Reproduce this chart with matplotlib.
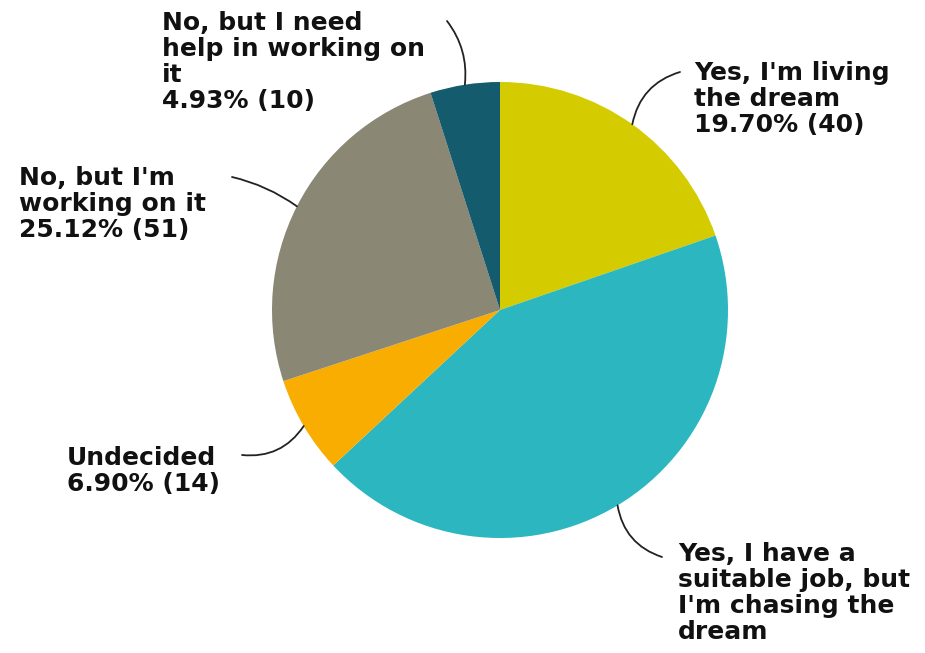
import numpy as np
import matplotlib.pyplot as plt

labels = ["Yes, I'm living\nthe dream",
          "Yes, I have a\nsuitable job, but\nI'm chasing the\ndream",
          "Undecided",
          "No, but I'm\nworking on it",
          "No, but I need\nhelp in working on\nit"]
counts = [40, 88, 14, 51, 10]
colors = ["#d4cc00", "#2bb6c0", "#f9ad00", "#8a8875", "#135b6d"]
# the big slice's percentage runs off the bottom of the original image
show_pct = [True, False, True, True, True]

# label placement (pixels, top-left of text block) and leader curvature
text_pos = [(694, 61), (678, 542), (67, 446), (19, 166), (162, 11)]
line_end = [(680, 72), (662, 557), (242, 455), (232, 177), (447, 21)]
line_rad = [-0.3, 0.3, -0.3, 0.1, 0.2]

total = sum(counts)
cx, cy, r = 500, 310, 228

fig = plt.figure(figsize=(9.25, 6.53), dpi=100)
ax = fig.add_axes([0, 0, 1, 1])

wedges, _ = ax.pie(counts, colors=colors, startangle=-90, counterclock=True,
                   center=(cx, cy), radius=r, wedgeprops=dict(linewidth=0))
ax.set_xlim(0, 925)
ax.set_ylim(653, 0)
ax.set_aspect("equal")
ax.axis("off")

for w, lab, c, sp, tp, le, rad in zip(wedges, labels, counts, show_pct,
                                      text_pos, line_end, line_rad):
    mid = np.deg2rad((w.theta1 + w.theta2) / 2)
    px, py = cx + r * np.cos(mid), cy + r * np.sin(mid)
    ax.annotate("", xy=le, xytext=(px, py),
                arrowprops=dict(arrowstyle="-", color="#222222", lw=1.3,
                                shrinkA=0, shrinkB=0,
                                connectionstyle=f"arc3,rad={rad}"))
    txt = f"{lab}\n{c / total * 100:.2f}% ({c})" if sp else lab
    ax.text(tp[0], tp[1], txt, ha="left", va="top", fontsize=18,
            fontweight="bold", color="#111111", linespacing=1.1)

plt.savefig("out.png", dpi=100)
